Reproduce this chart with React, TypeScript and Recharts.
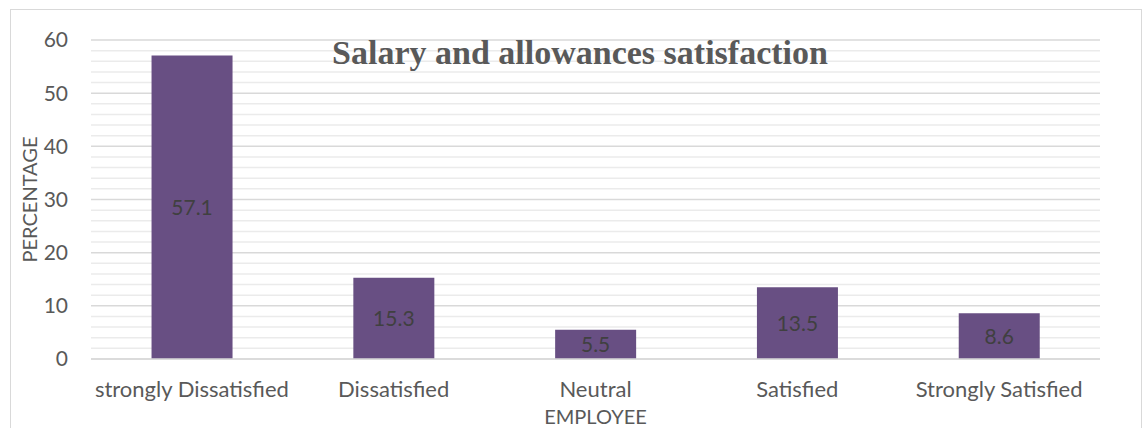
import { BarChart, Bar, XAxis, YAxis, CartesianGrid, LabelList, ReferenceLine } from "recharts";

const categories = [
  "strongly Dissatisfied",
  "Dissatisfied",
  "Neutral",
  "Satisfied",
  "Strongly Satisfied",
];
const percentages = [57.1, 15.3, 5.5, 13.5, 8.6];
const majorTicks = [0, 10, 20, 30, 40, 50, 60];
const minorTicks = [
  2, 4, 6, 8, 12, 14, 16, 18, 22, 24, 26, 28, 32, 34, 36, 38, 42, 44, 46, 48,
  52, 54, 56, 58,
];

const data = categories.map((name, i) => ({ name, value: percentages[i] }));

const font = "Lato, 'Open Sans', sans-serif";
const margin = { top: 40, right: 44, left: 0, bottom: 0 };
const layer = { position: "absolute" as const, left: 0, top: 0 };
const hiddenTick = { fill: "transparent", fontSize: 1 };

// minor gridlines live in a chart underneath so the bars cover them
const MinorGrid = () => (
  <div style={layer}>
    <BarChart width={1144} height={428} data={data} margin={margin} barCategoryGap="30%">
      <XAxis dataKey="name" height={69} axisLine={false} tickLine={false} tick={hiddenTick} />
      <YAxis width={91} domain={[0, 60]} ticks={majorTicks} axisLine={false} tickLine={false} tick={hiddenTick} />
      {minorTicks.map((t) => (
        <ReferenceLine key={t} y={t} stroke="#ebebeb" strokeWidth={1.5} ifOverflow="extendDomain" />
      ))}
      <Bar dataKey="value" fill="transparent" isAnimationActive={false} />
    </BarChart>
  </div>
);

const App = () => {
  return (
    <div style={{ position: "absolute", left: 0, top: 0, width: 1144, height: 428, background: "#fff" }}>
      <div
        style={{
          position: "absolute",
          left: 10,
          top: 9,
          width: 1132,
          height: 430,
          border: "1px solid #d9d9d9",
          boxSizing: "border-box",
        }}
      />
      <MinorGrid />
      <div style={layer}>
        <BarChart
          width={1144}
          height={428}
          data={data}
          margin={margin}
          barCategoryGap="30%"
        >
          <CartesianGrid vertical={false} stroke="#d9d9d9" strokeWidth={1.5} fill="none" />
          <XAxis
            dataKey="name"
            height={69}
            axisLine={{ stroke: "#d9d9d9", strokeWidth: 1.5 }}
            tickLine={false}
            tickMargin={16}
            tick={{ fill: "#595959", fontSize: 22, fontFamily: font }}
            interval={0}
            label={{
              value: "EMPLOYEE",
              position: "insideBottom",
              offset: 4,
              fill: "#595959",
              fontSize: 20,
              fontFamily: font,
            }}
          />
          <YAxis
            width={91}
            domain={[0, 60]}
            ticks={majorTicks}
            axisLine={false}
            tickLine={false}
            tickMargin={17}
            tick={{ fill: "#595959", fontSize: 21, fontFamily: font }}
            label={{
              value: "PERCENTAGE",
              angle: -90,
              position: "insideLeft",
              offset: 30,
              fill: "#595959",
              fontSize: 20,
              fontFamily: font,
              style: { textAnchor: "middle" },
            }}
          />
          <Bar dataKey="value" fill="#684F83" isAnimationActive={false}>
            <LabelList
              dataKey="value"
              position="center"
              fill="#404040"
              fontSize={21}
              fontFamily={font}
            />
          </Bar>
        </BarChart>
      </div>
      <div
        style={{
          position: "absolute",
          left: 0,
          width: 1160,
          top: 34,
          textAlign: "center",
          fontFamily: "'Liberation Serif', 'Times New Roman', serif",
          fontWeight: "bold",
          fontSize: 34,
          color: "#595959",
          lineHeight: "38px",
        }}
      >
        Salary and allowances satisfaction
      </div>
    </div>
  );
};

export default App;
